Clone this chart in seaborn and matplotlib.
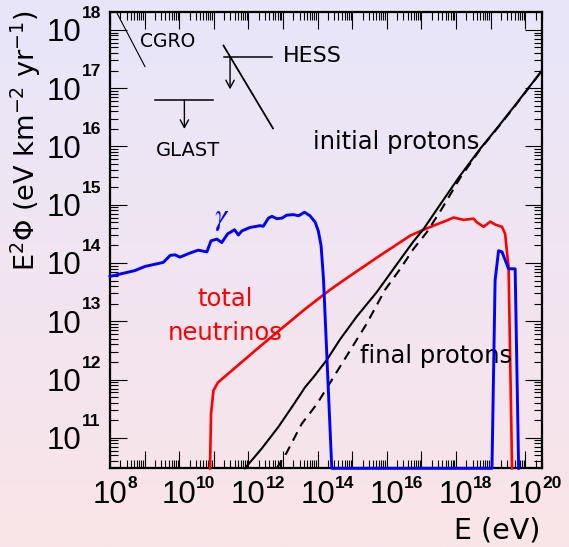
import numpy as np
import matplotlib
matplotlib.use("Agg")
import matplotlib.pyplot as plt
import matplotlib.ticker as mticker
from matplotlib.transforms import ScaledTranslation, blended_transform_factory
import seaborn as sns

# ---------------- data (log10 values) ----------------
# gamma-ray spectrum (values below the axis floor are drawn on the floor)
gamma_logE = [8.00, 8.72, 9.01, 9.54, 9.74, 9.88, 10.02, 10.31, 10.55, 10.80,
              10.92, 11.09, 11.23, 11.40, 11.60, 11.71, 11.81, 12.05, 12.34, 12.43,
              12.58, 12.68, 12.82, 12.97, 13.11, 13.30, 13.45, 13.62, 13.78, 13.93,
              14.02, 14.10, 14.17, 14.41, 19.04, 19.13, 19.23, 19.33, 19.52, 19.71, 19.81]
gamma_logF = [13.77, 13.87, 13.94, 14.01, 14.13, 14.14, 14.10, 14.17, 14.22, 14.19,
              14.38, 14.41, 14.35, 14.50, 14.57, 14.48, 14.55, 14.61, 14.64, 14.63,
              14.77, 14.80, 14.76, 14.77, 14.82, 14.83, 14.81, 14.87, 14.81, 14.70,
              14.55, 14.30, 13.73, 10.00, 10.00, 13.70, 14.21, 14.19, 13.90, 13.90, 10.00]

# total neutrinos
nu_logE = [10.89, 10.92, 10.99, 11.12, 12.34, 13.64, 14.36, 14.94, 15.81, 16.68,
           17.06, 17.35, 17.74, 17.93, 18.22, 18.51, 18.60, 18.80, 18.99, 19.13,
           19.33, 19.42, 19.47, 19.52, 19.62]
nu_logF = [10.00, 11.41, 11.81, 11.95, 12.57, 13.21, 13.54, 13.78, 14.13, 14.47,
           14.57, 14.64, 14.73, 14.78, 14.74, 14.76, 14.70, 14.62, 14.71, 14.66,
           14.62, 14.50, 14.21, 13.93, 10.00]

# initial protons (solid)
pini_logE = [11.90, 12.39, 12.87, 13.26, 13.64, 13.88, 14.27, 14.65, 15.13, 15.71,
             16.39, 16.77, 17.06, 17.54, 18.12, 18.70, 19.18, 19.66, 20.47]
pini_logF = [10.00, 10.82, 11.19, 11.53, 11.87, 12.04, 12.34, 12.69, 13.08, 13.50,
             14.06, 14.37, 14.58, 15.00, 15.50, 15.96, 16.31, 16.67, 17.29]

# final protons (dashed)
pfin_logE = [12.82, 13.11, 13.54, 13.98, 14.46, 14.94, 15.42, 15.95, 16.39, 16.77,
             17.16, 17.59, 18.12, 18.70, 19.18, 19.66, 20.47]
pfin_logF = [10.00, 10.75, 11.24, 11.58, 12.04, 12.50, 12.96, 13.54, 13.90, 14.24,
             14.53, 14.93, 15.46, 15.95, 16.30, 16.66, 17.29]

# instrument sensitivities / limits
cgro_logE = [8.20, 9.01]
cgro_logF = [18.29, 17.37]
hess_line_logE = [11.28, 12.71]
hess_line_logF = [17.73, 16.31]
hess_lim_logE = [11.30, 12.68]
hess_lim_logF = [17.53, 17.53]
hess_arrow_logE = 11.47
hess_arrow_logF = [17.53, 16.98]
glast_lim_logE = [9.31, 10.99]
glast_lim_logF = [16.80, 16.80]
glast_arrow_logE = 10.15
glast_arrow_logF = [16.80, 16.30]

XMIN, XMAX = 1e8, 3e20
YMIN, YMAX = 3e10, 2e18
x_tick_exps = list(range(8, 21))
x_label_exps = [e for e in x_tick_exps if e % 2 == 0]
x_tick_labels = ["10" if e in x_label_exps else "" for e in x_tick_exps]
y_tick_exps = list(range(11, 19))
y_tick_labels = ["10" for e in y_tick_exps]

# ---------------- style ----------------
plt.rcParams["font.family"] = ["Liberation Sans", "DejaVu Sans"]
plt.rcParams["mathtext.fontset"] = "dejavusans"
GOTHIC = "DejaVu Sans"
TICK_FS = 22.5
SUP_FS = 12.5

fig = plt.figure(figsize=(5.69, 5.47), dpi=100)

# background gradient (lavender -> pink)
bg = fig.add_axes([0, 0, 1, 1], zorder=-10)
top_c = np.array([232, 230, 250]) / 255.0
bot_c = np.array([250, 228, 232]) / 255.0
t = np.linspace(0, 1, 256)[:, None]
grad = (top_c[None, :] * (1 - t) + bot_c[None, :] * t)[:, None, :]
bg.imshow(grad, aspect="auto", extent=[0, 1, 0, 1], origin="upper")
bg.axis("off")

W, H = 569.0, 547.0
ax = fig.add_axes([110 / W, 1 - 468.3 / H, (541.7 - 110) / W, (468.3 - 12.3) / H])
ax.set_facecolor("none")
ax.set_xscale("log")
ax.set_yscale("log")


def curve(logE, logF, color, lw, ls="-", z=3):
    E = 10.0 ** np.asarray(logE)
    F = np.clip(10.0 ** np.asarray(logF), YMIN, YMAX)
    sns.lineplot(x=E, y=F, ax=ax, color=color, lw=lw, linestyle=ls,
                 estimator=None, sort=False, zorder=z, clip_on=False)


curve(nu_logE, nu_logF, "#ff0000", 1.9, z=3)
curve(pfin_logE, pfin_logF, "black", 1.5, ls=(0, (4.5, 3.2)), z=3.2)
curve(pini_logE, pini_logF, "black", 1.5, z=3.3)
curve(gamma_logE, gamma_logF, "#0000ff", 2.1, z=3.5)

# instrument lines
curve(cgro_logE, cgro_logF, "black", 0.8, z=3)
curve(hess_line_logE, hess_line_logF, "black", 1.3, z=3)
curve(hess_lim_logE, hess_lim_logF, "black", 1.1, z=3)
curve(glast_lim_logE, glast_lim_logF, "black", 1.1, z=3)
arrow_kw = dict(arrowstyle="->,head_length=0.55,head_width=0.3", lw=1.0,
                color="black", shrinkA=0, shrinkB=0, mutation_scale=10)
ax.annotate("", xy=(10 ** hess_arrow_logE, 10 ** hess_arrow_logF[1]),
            xytext=(10 ** hess_arrow_logE, 10 ** hess_arrow_logF[0]), arrowprops=arrow_kw)
ax.annotate("", xy=(10 ** glast_arrow_logE, 10 ** glast_arrow_logF[1]),
            xytext=(10 ** glast_arrow_logE, 10 ** glast_arrow_logF[0]), arrowprops=arrow_kw)

ax.set_xlim(XMIN, XMAX)
ax.set_ylim(YMIN, YMAX)
ax.set_xlabel("")
ax.set_ylabel("")

# text annotations
ax.text(10 ** 8.87, 10 ** 17.70, "CGRO", fontsize=13.5, family=GOTHIC, ha="left", va="baseline")
ax.text(10 ** 13.00, 10 ** 17.45, "HESS", fontsize=16, family=GOTHIC, ha="left", va="baseline")
ax.text(10 ** 9.33, 10 ** 15.84, "GLAST", fontsize=14, family=GOTHIC, ha="left", va="baseline")
ax.text(10 ** 13.87, 10 ** 15.96, "initial protons", fontsize=17.5, family=GOTHIC, ha="left", va="baseline")
ax.text(10 ** 15.23, 10 ** 12.29, "final protons", fontsize=17.5, family=GOTHIC, ha="left", va="baseline")
ax.text(10 ** 11.33, 10 ** 13.27, "total", fontsize=17.5, family=GOTHIC, color="#ff0000", ha="center", va="baseline")
ax.text(10 ** 11.33, 10 ** 12.67, "neutrinos", fontsize=17.5, family=GOTHIC, color="#ff0000", ha="center", va="baseline")
ax.text(10 ** 11.24, 10 ** 14.78, r"$\gamma$", fontsize=22, color="#0000ff", ha="center", va="center",
        math_fontfamily="stix")

# axes frame and ticks
for s in ax.spines.values():
    s.set_linewidth(1.6)
    s.set_zorder(2.5)

ax.xaxis.set_major_locator(mticker.FixedLocator(10.0 ** np.array(x_tick_exps)))
ax.xaxis.set_major_formatter(mticker.FixedFormatter(x_tick_labels))
ax.yaxis.set_major_locator(mticker.FixedLocator(10.0 ** np.array(y_tick_exps)))
ax.yaxis.set_major_formatter(mticker.FixedFormatter(y_tick_labels))
for axis in (ax.xaxis, ax.yaxis):
    axis.set_minor_locator(mticker.LogLocator(base=10, subs=np.arange(2, 10), numticks=200))
    axis.set_minor_formatter(mticker.NullFormatter())

ax.tick_params(which="both", direction="in", top=True, right=True, width=0.8, colors="black")
ax.tick_params(which="major", length=12, labelsize=TICK_FS)
ax.tick_params(which="minor", length=5.5)
ax.tick_params(axis="x", which="major", pad=8.4)
ax.tick_params(axis="y", which="major", pad=20.4)

# exponents of the tick labels
dpi_tr = fig.dpi_scale_trans
x_sup_tr = blended_transform_factory(ax.transData, ax.transAxes) + ScaledTranslation(17.0 / 100, -19.7 / 100, dpi_tr)
for e in x_label_exps:
    ax.text(10.0 ** e, 0, str(e), transform=x_sup_tr, fontsize=SUP_FS, fontweight="bold",
            ha="left", va="baseline", clip_on=False)
y_sup_tr = blended_transform_factory(ax.transAxes, ax.transData) + ScaledTranslation(-28.0 / 100, 12.0 / 100, dpi_tr)
for e in y_tick_exps:
    ax.text(0, 10.0 ** e, str(e), transform=y_sup_tr, fontsize=SUP_FS, fontweight="bold",
            ha="left", va="baseline", clip_on=False)

# axis titles
fig.text(540 / W, 1 - 530 / H, "E (eV)", fontsize=20.5, family=GOTHIC, ha="right", va="center")
fig.text(26 / W, 1 - 10 / H, r"E$^{2}\Phi$ (eV km$^{-2}$ yr$^{-1}$)", fontsize=19.5,
         family=GOTHIC, rotation=90, ha="center", va="top")

fig.savefig("out.png", dpi=100)
